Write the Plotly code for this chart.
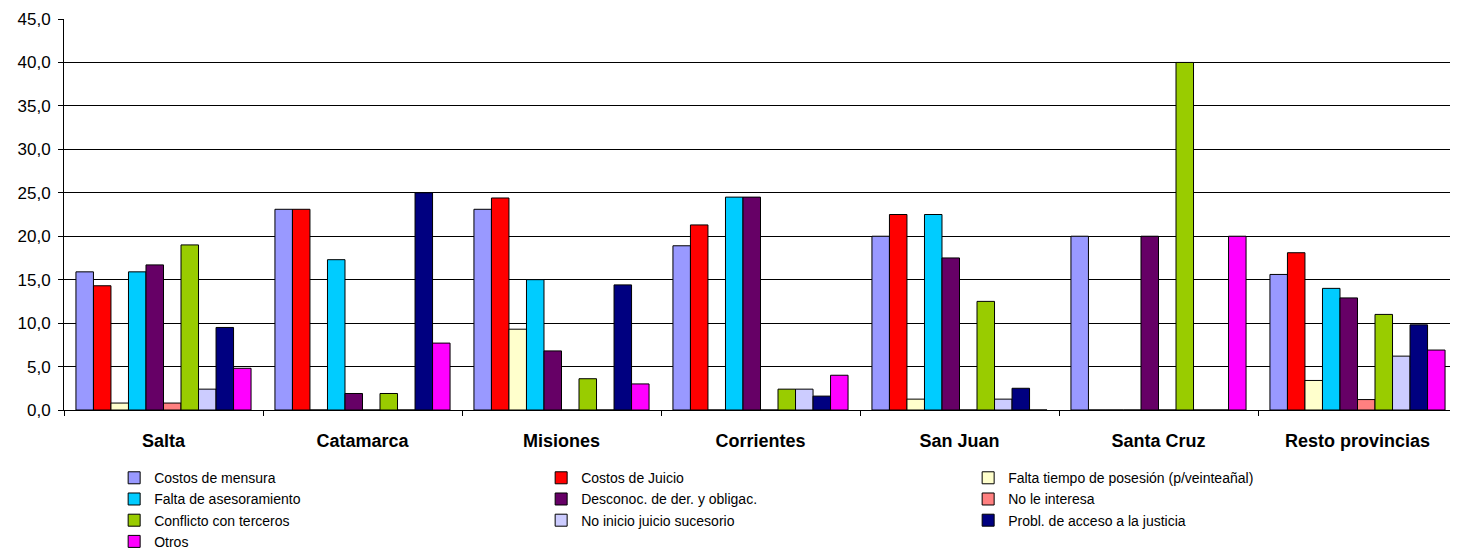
"""Motivos de no regularización por provincia - barras agrupadas"""
import plotly.graph_objects as go

provincias = ["Salta", "Catamarca", "Misiones", "Corrientes", "San Juan", "Santa Cruz", "Resto provincias"]

costos_mensura = [15.9, 23.1, 23.1, 18.9, 20.0, 20.0, 15.6]
costos_juicio = [14.3, 23.1, 24.4, 21.3, 22.5, 0.0, 18.1]
falta_tiempo = [0.8, 0.0, 9.3, 0.0, 1.25, 0.0, 3.4]
falta_asesor = [15.9, 17.3, 15.0, 24.5, 22.5, 0.0, 14.0]
desconoc = [16.7, 1.9, 6.8, 24.5, 17.5, 20.0, 12.9]
no_interesa = [0.8, 0.0, 0.0, 0.0, 0.0, 0.0, 1.2]
conflicto = [19.0, 1.9, 3.6, 2.4, 12.5, 40.0, 11.0]
sucesorio = [2.4, 0.0, 0.0, 2.4, 1.25, 0.0, 6.2]
acceso = [9.5, 25.0, 14.4, 1.6, 2.5, 0.0, 9.8]
otros = [4.8, 7.7, 3.0, 4.0, 0.0, 20.0, 6.9]

series = [
    ("Costos de mensura", costos_mensura, "#9999FF"),
    ("Costos de Juicio", costos_juicio, "#FF0000"),
    ("Falta tiempo de posesión (p/veinteañal)", falta_tiempo, "#FFFFCC"),
    ("Falta de asesoramiento", falta_asesor, "#00CCFF"),
    ("Desconoc. de der. y obligac.", desconoc, "#660066"),
    ("No le interesa", no_interesa, "#FF8080"),
    ("Conflicto con terceros", conflicto, "#99CC00"),
    ("No inicio juicio sucesorio", sucesorio, "#CCCCFF"),
    ("Probl. de acceso a la justicia", acceso, "#000080"),
    ("Otros", otros, "#FF00FF"),
]

fig = go.Figure()
for nombre, valores, color in series:
    fig.add_trace(go.Bar(
        x=provincias,
        y=valores,
        name=nombre,
        marker=dict(color=color, line=dict(color="black", width=1)),
    ))

# la página tiene un margen de 8px, por eso 1450x542
fig.update_layout(
    width=1450, height=542,
    barmode="group",
    bargap=0.12,
    bargroupgap=0,
    separators=", ",
    plot_bgcolor="white",
    paper_bgcolor="white",
    margin=dict(l=56, r=1, t=11, b=140, autoexpand=False),
    font=dict(family="Liberation Sans, Arial", size=17, color="black"),
    legend=dict(
        orientation="h",
        x=0.036, xanchor="left",
        yref="container", y=0.162, yanchor="top",
        entrywidth=382,
        font=dict(family="Liberation Sans Narrow, Liberation Sans", size=14),
        traceorder="normal",
        itemwidth=30,
    ),
)

fig.update_yaxes(
    range=[0, 45], dtick=5, tickformat=".1f",
    showgrid=True, gridcolor="black", gridwidth=1,
    showline=True, linecolor="black", linewidth=1,
    ticks="outside", ticklen=5, tickcolor="black",
    ticklabelstandoff=4,
    zeroline=False,
)
fig.update_xaxes(
    showline=True, linecolor="black", linewidth=1,
    ticks="outside", ticklen=5, tickcolor="black", tickson="boundaries",
    ticklabelstandoff=14,
    tickfont=dict(family="Liberation Sans, Arial", size=18, weight="bold"),
)

fig.write_html("out.html")
